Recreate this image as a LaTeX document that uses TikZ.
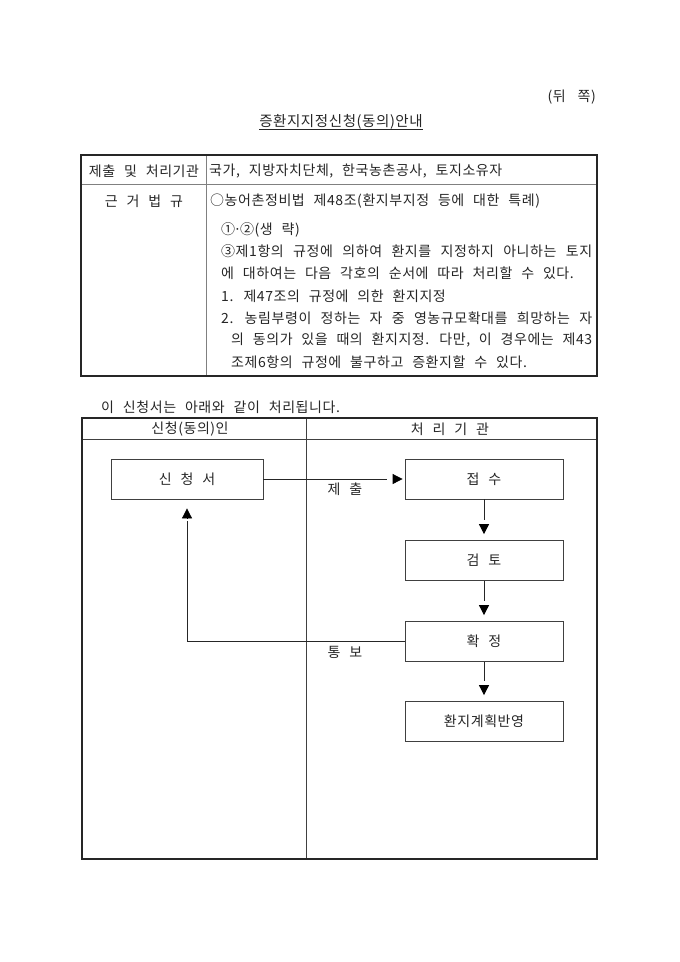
\documentclass[tikz,border=0pt]{standalone}
\usepackage{fontspec}
\setmainfont{Noto Sans CJK KR}[WordSpace=2.4, LetterSpace=4]
\usetikzlibrary{arrows.meta}
\tikzset{
  every node/.style={font=\fontsize{14}{16}\selectfont, inner sep=0pt, text=black!85},
  txt/.style={anchor=west},
  outerline/.style={draw=black!85, line width=1.5pt},
  innerline/.style={draw=black!50, line width=0.9pt},
  innerdark/.style={draw=black!75, line width=0.8pt},
  procbox/.style={draw=black!75, line width=0.8pt, minimum width=158pt, minimum height=40pt},
  conn/.style={draw=black!85, line width=0.8pt},
  arrowtip/.style={draw=black, line width=0.8pt, -{Triangle[length=10pt,width=10pt]}},
}
\begin{document}
\begin{tikzpicture}[x=1pt,y=-1pt]
\useasboundingbox (0,0) rectangle (680,962);
\fill[white] (0,0) rectangle (680,962);

% header texts
\node[anchor=east] (side) at (596,97) {(뒤\hspace{3pt} 쪽)};
\node (title) at (341,122) {\fontsize{14.5}{17}\selectfont 증환지지정신청(동의)안내};
\draw[conn] ([yshift=-3pt]title.base west) -- ([yshift=-3pt]title.base east);

% top table
\draw[innerline] (81,184) -- (597,184);
\draw[innerline] (206,155) -- (206,376);
\draw[outerline] (81,155) rectangle (597,376);

\node (h1) at (144,171) {제출 및 처리기관};
\node[txt] (v1) at (209,171) {국가, 지방자치단체, 한국농촌공사, 토지소유자};
\node (h2) at (144,201) {근 거 법 규};
\node[txt] (l1) at (210,201) {○농어촌정비법 제48조(환지부지정 등에 대한 특례)};
\node[txt] (l2) at (221,230) {①\kern-1.5pt·\kern-1.5pt②(생 략)};
\node[txt] (l3) at (221,251) {\makebox[371pt][s]{③제1항의 규정에 의하여 환지를 지정하지 아니하는 토지}};
\node[txt] (l4) at (221,273) {에 대하여는 다음 각호의 순서에 따라 처리할 수 있다.};
\node[txt] (l5) at (221,296) {1. 제47조의 규정에 의한 환지지정};
\node[txt] (l6) at (221,318) {\makebox[371pt][s]{2. 농림부령이 정하는 자 중 영농규모확대를 희망하는 자}};
\node[txt] (l7) at (231,340) {\makebox[361pt][s]{의 동의가 있을 때의 환지지정. 다만, 이 경우에는 제43}};
\node[txt] (l8) at (231,362) {조제6항의 규정에 불구하고 증환지할 수 있다.};

% intro line
\node[txt] (intro) at (101,407) {이 신청서는 아래와 같이 처리됩니다.};

% lower table
\draw[innerdark] (82,439) -- (597,439);
\draw[innerdark] (306,418) -- (306,859);
\draw[outerline] (82,418) rectangle (597,859);
\node (c1) at (190,429) {신청(동의)인};
\node (c2) at (450,429) {처 리 기 관};

% boxes
\node[procbox, minimum width=152pt] (sin) at (187,479) {신 청 서};
\node[procbox] (jeop) at (484,479) {접 수};
\node[procbox] (geom) at (484,560.5) {검 토};
\node[procbox] (hwak) at (484,641.5) {확 정};
\node[procbox] (ban) at (484,721.5) {환지계획반영};

% connectors
\draw[conn, shorten >=18pt] (sin.east) -- (jeop.west);
\draw[arrowtip, shorten >=2pt, shorten <=130.5pt] (sin.east) -- (jeop.west);
\node (lab1) at (345,489) {제 출};

\draw[conn, shorten >=20pt] (jeop.south) -- (geom.north);
\draw[arrowtip, shorten >=6pt, shorten <=25pt] (jeop.south) -- (geom.north);
\draw[conn, shorten >=20pt] (geom.south) -- (hwak.north);
\draw[arrowtip, shorten >=6pt, shorten <=25pt] (geom.south) -- (hwak.north);
\draw[conn, shorten >=20pt] (hwak.south) -- (ban.north);
\draw[arrowtip, shorten >=6pt, shorten <=25pt] (hwak.south) -- (ban.north);

\coordinate (corner) at (sin.south |- hwak.west);
\draw[conn, shorten >=22pt] (hwak.west) -| (sin.south);
\draw[arrowtip, shorten >=9pt, shorten <=123pt] (corner) -- (sin.south);
\node (lab2) at (345,652) {통 보};
\end{tikzpicture}
\end{document}
